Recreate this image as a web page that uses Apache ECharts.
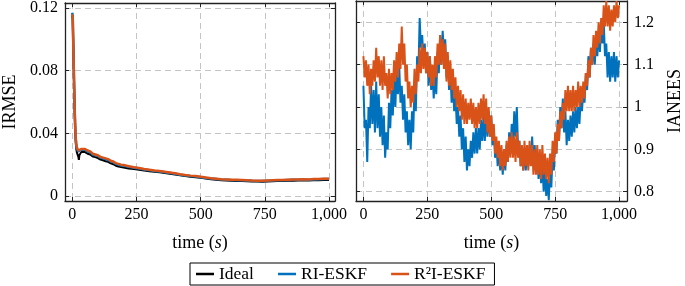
<!DOCTYPE html>
<html>
<head>
<meta charset="utf-8">
<script src="https://cdn.jsdelivr.net/npm/echarts@6/dist/echarts.min.js"></script>
<style>
  html, body { margin: 0; padding: 0; background: #fff; }
  #chart { width: 685px; height: 286px; }
</style>
</head>
<body>
<div id="chart"></div>
<script>
// left panel: IRMSE over time (denser sampling at the start)
var leftTime = [0, 2, 4, 6, 8, 10, 12, 14, 16, 18, 20, 22, 24, 26, 28, 30, 35,
  40, 50, 60, 70, 80, 90, 100, 110, 120, 130, 140, 150, 160, 170, 180, 190, 200,
  220, 240, 260, 280, 300, 320, 340, 360, 380, 400, 420, 440, 460, 480, 500,
  520, 540, 560, 580, 600, 620, 640, 660, 680, 700, 720, 740, 760, 780, 800,
  820, 840, 860, 880, 900, 920, 940, 960, 980, 1000]

var idealRmse = [0.115, 0.113, 0.098, 0.082, 0.066, 0.052, 0.041, 0.034, 0.030, 0.028, 0.027, 0.028, 0.025, 0.023, 0.026, 0.027,
  0.028,
  0.0275, 0.028, 0.027, 0.0265, 0.0252, 0.0248, 0.0242, 0.0232, 0.0228, 0.0222, 0.0218, 0.0208, 0.0203, 0.0193, 0.0188, 0.0185, 0.0182,
  0.0175, 0.0172, 0.0167, 0.0162, 0.0158, 0.0154, 0.0151, 0.0146, 0.0142, 0.0137, 0.0132, 0.0127, 0.0123, 0.012, 0.0116, 0.0112, 0.0107,
  0.0104, 0.0101, 0.0099, 0.0097, 0.0096, 0.0095, 0.0094, 0.0093, 0.0092, 0.0091, 0.0092, 0.0094, 0.0095, 0.0096, 0.0097, 0.0098,
  0.0099, 0.0100, 0.0099, 0.0100, 0.0101, 0.0102, 0.0102]

var riRmse = [0.117, 0.115, 0.099, 0.083, 0.067, 0.053, 0.043, 0.036, 0.032, 0.030, 0.0295, 0.030, 0.0285, 0.0295, 0.0285, 0.029,
  0.0295,
  0.029, 0.0295, 0.0285, 0.028, 0.0265, 0.026, 0.0255, 0.0245, 0.024, 0.0235, 0.023, 0.022, 0.0215, 0.0205, 0.020, 0.0195, 0.0193,
  0.0186, 0.018, 0.0175, 0.0169, 0.0165, 0.016, 0.0157, 0.0152, 0.0147, 0.0142, 0.0136, 0.0131, 0.0127, 0.0124, 0.012, 0.0115, 0.0111,
  0.0108, 0.0105, 0.0104, 0.0102, 0.0101, 0.01, 0.0099, 0.0097, 0.0096, 0.0095, 0.0097, 0.0099, 0.01, 0.01, 0.0102, 0.0103,
  0.0104, 0.0105, 0.0104, 0.0106, 0.0107, 0.0108, 0.0108]

var r2iRmse = [0.116, 0.114, 0.099, 0.083, 0.067, 0.053, 0.043, 0.037, 0.033, 0.031, 0.030, 0.0305, 0.029, 0.030, 0.029, 0.0295,
  0.030,
  0.0295, 0.030, 0.029, 0.0285, 0.027, 0.0265, 0.026, 0.025, 0.0245, 0.024, 0.0235, 0.0225, 0.022, 0.021, 0.0205, 0.020, 0.0198,
  0.019, 0.0183, 0.0178, 0.0172, 0.0168, 0.0163, 0.016, 0.0155, 0.015, 0.0145, 0.0139, 0.0134, 0.013, 0.0127, 0.0123, 0.0118, 0.0113,
  0.011, 0.0107, 0.0106, 0.0104, 0.0103, 0.0102, 0.0101, 0.0099, 0.0098, 0.0097, 0.0099, 0.0101, 0.0102, 0.0102, 0.0104, 0.0105,
  0.0106, 0.0107, 0.0106, 0.0108, 0.0109, 0.0110, 0.0110]

// right panel: IANEES, one sample every 5 s
var rightTime = []
for (var i = 0; i <= 200; i++) rightTime.push(i * 5)

var riNees = [
  1.05, 0.95, 0.97, 0.87, 1.00, 0.95, 1.05, 0.96, 1.04, 0.94, 1.06, 0.95, 1.03, 0.93, 1.00, 0.91, 0.98, 0.88, 0.94, 0.90,
  1.01, 0.95, 1.04, 0.98, 1.07, 1.00, 1.09, 1.03, 1.10, 1.01, 1.05, 0.97, 1.03, 0.94, 0.99, 0.91, 0.97, 0.90, 0.99, 0.94,
  1.06, 0.99, 1.12, 1.08, 1.21, 1.14, 1.17, 1.10, 1.15, 1.08, 1.13, 1.05, 1.12, 1.04, 1.09, 1.02, 1.08, 1.03, 1.13, 1.08,
  1.17, 1.10, 1.18, 1.13, 1.16, 1.07, 1.12, 1.04, 1.09, 1.01, 1.06, 0.99, 1.03, 0.96, 1.00, 0.93, 0.98, 0.90, 0.95, 0.87,
  0.93, 0.85, 0.90, 0.86, 0.92, 0.88, 0.94, 0.89, 0.95, 0.89, 0.95, 0.90, 0.97, 0.92, 0.98, 0.92, 0.99, 0.93, 0.99, 0.93,
  0.98, 0.91, 0.95, 0.88, 0.92, 0.86, 0.91, 0.85, 0.89, 0.84, 0.90, 0.85, 0.91, 0.87, 0.94, 0.89, 0.96, 0.91, 0.99, 0.93,
  1.00, 0.90, 0.92, 0.86, 0.90, 0.85, 0.90, 0.85, 0.89, 0.86, 0.91, 0.87, 0.93, 0.86, 0.91, 0.85, 0.89, 0.83, 0.88, 0.82,
  0.87, 0.80, 0.85, 0.79, 0.83, 0.78, 0.85, 0.81, 0.89, 0.85, 0.93, 0.89, 0.97, 0.92, 1.00, 0.95, 1.02, 0.94, 0.99, 0.91,
  0.97, 0.92, 0.98, 0.93, 0.99, 0.94, 1.00, 0.95, 1.00, 0.96, 1.02, 0.99, 1.04, 1.01, 1.08, 1.04, 1.12, 1.07, 1.14, 1.10,
  1.15, 1.10, 1.16, 1.12, 1.18, 1.13, 1.19, 1.15, 1.20, 1.12, 1.15, 1.07, 1.13, 1.06, 1.12, 1.07, 1.13, 1.06, 1.12, 1.07,
  1.11]

var r2iNees = [
  1.12, 1.07, 1.11, 1.05, 1.10, 1.03, 1.09, 1.05, 1.11, 1.06, 1.14, 1.07, 1.12, 1.05, 1.11, 1.04, 1.12, 1.05, 1.08, 1.02,
  1.09, 1.03, 1.08, 1.04, 1.11, 1.06, 1.13, 1.07, 1.15, 1.09, 1.19, 1.10, 1.15, 1.06, 1.10, 1.02, 1.06, 1.00, 1.05, 1.01,
  1.09, 1.03, 1.10, 1.06, 1.14, 1.08, 1.15, 1.09, 1.14, 1.08, 1.13, 1.07, 1.12, 1.05, 1.10, 1.05, 1.12, 1.07, 1.15, 1.10,
  1.17, 1.10, 1.16, 1.09, 1.15, 1.06, 1.13, 1.05, 1.11, 1.04, 1.09, 1.02, 1.07, 1.00, 1.05, 0.99, 1.04, 0.97, 1.03, 0.96,
  1.02, 0.96, 1.01, 0.97, 1.02, 0.96, 1.01, 0.95, 1.00, 0.95, 1.01, 0.96, 1.02, 0.97, 1.03, 0.96, 1.02, 0.94, 1.00, 0.93,
  0.98, 0.92, 0.96, 0.89, 0.93, 0.88, 0.92, 0.86, 0.91, 0.85, 0.90, 0.86, 0.92, 0.87, 0.93, 0.88, 0.94, 0.88, 0.93, 0.87,
  0.94, 0.88, 0.92, 0.86, 0.91, 0.85, 0.92, 0.86, 0.91, 0.85, 0.92, 0.86, 0.91, 0.84, 0.90, 0.84, 0.91, 0.84, 0.90, 0.83,
  0.91, 0.84, 0.89, 0.83, 0.88, 0.82, 0.89, 0.84, 0.92, 0.87, 0.94, 0.89, 0.96, 0.92, 0.99, 0.95, 1.01, 0.97, 1.04, 0.99,
  1.05, 0.99, 1.04, 0.99, 1.05, 0.99, 1.04, 1.00, 1.06, 1.00, 1.05, 1.01, 1.06, 1.02, 1.08, 1.05, 1.11, 1.07, 1.14, 1.10,
  1.17, 1.12, 1.18, 1.14, 1.20, 1.15, 1.21, 1.17, 1.24, 1.19, 1.25, 1.19, 1.24, 1.18, 1.23, 1.19, 1.24, 1.20, 1.25, 1.21,
  1.24]

var timeTicks = [0, 250, 500, 750, 1000]
var rmseTicks = [0, 0.04, 0.08, 0.12]
var neesTicks = [0.8, 0.9, 1, 1.1, 1.2]

var BLACK = '#000000'
var BLUE = '#0072BD'
var ORANGE = '#D95319'
var FONT = 'Liberation Serif'

var pairs = function (xs, ys) {
  return ys.map(function (v, k) { return [xs[k], v] })
}

var fmtTime = function (v) {
  return v >= 1000 ? '1,000' : String(v)
}

var gridLine = { show: true, lineStyle: { color: '#c4c4c4', type: [6, 4], width: 1 } }
var frameLine = { show: true, onZero: false, lineStyle: { color: '#222', width: 1.3 } }
var innerTick = function (vals) {
  return { show: true, inside: true, length: 4, customValues: vals, lineStyle: { color: '#222', width: 1 } }
}

var xAxisFor = function (grid, min, max, withLabels) {
  return {
    type: 'value', gridIndex: grid, min: min, max: max,
    position: withLabels ? 'bottom' : 'top',
    axisLine: frameLine,
    axisTick: innerTick(timeTicks),
    splitLine: withLabels ? gridLine : { show: false },
    axisLabel: withLabels ? {
      show: true, customValues: timeTicks, formatter: fmtTime, margin: 6,
      fontFamily: FONT, fontSize: 16, color: '#000'
    } : { show: false },
    name: withLabels ? '{a|time (}{b|s}{a|)}' : '',
    nameLocation: 'middle',
    nameGap: 33,
    nameTextStyle: {
      rich: {
        a: { fontFamily: FONT, fontSize: 18, color: '#000' },
        b: { fontFamily: FONT, fontSize: 18, fontStyle: 'italic', color: '#000' }
      }
    }
  }
}

var yAxisFor = function (grid, min, max, ticks, pos, withLabels, name, labelFmt, nameGap) {
  return {
    type: 'value', gridIndex: grid, min: min, max: max, position: pos,
    axisLine: frameLine,
    axisTick: innerTick(ticks),
    splitLine: withLabels ? gridLine : { show: false },
    axisLabel: withLabels ? {
      show: true, customValues: ticks, formatter: labelFmt, margin: 7,
      fontFamily: FONT, fontSize: 16, color: '#000'
    } : { show: false },
    name: withLabels ? name : '',
    nameLocation: 'middle',
    nameRotate: 90,
    nameGap: nameGap,
    nameTextStyle: { fontFamily: FONT, fontSize: 18, color: '#000' }
  }
}

var chart = echarts.init(document.getElementById('chart'), null, { renderer: 'canvas' })

chart.setOption({
  animation: false,
  backgroundColor: '#fff',
  textStyle: { fontFamily: FONT, color: '#000' },
  grid: [
    { left: 62, top: 1, width: 273, height: 200 },
    { left: 356, top: 1, width: 275, height: 200 }
  ],
  xAxis: [
    xAxisFor(0, -28, 1023, true),
    xAxisFor(0, -28, 1023, false),
    xAxisFor(1, -29, 1031, true),
    xAxisFor(1, -29, 1031, false)
  ],
  yAxis: [
    yAxisFor(0, -0.0032, 0.1232, rmseTicks, 'left', true, 'IRMSE', function (v) { return v === 0 ? '0' : v.toFixed(2) }, 46),
    yAxisFor(0, -0.0032, 0.1232, rmseTicks, 'right', false, '', null, 0),
    yAxisFor(1, 0.778, 1.2503, neesTicks, 'right', true, 'IANEES', function (v) { return String(Math.round(v * 10) / 10) }, 39),
    yAxisFor(1, 0.778, 1.2503, neesTicks, 'left', false, '', null, 0)
  ],
  legend: {
    data: ['Ideal', 'RI-ESKF', 'R²I-ESKF'],
    left: 190, top: 263,
    icon: 'rect', itemWidth: 18, itemHeight: 2.5, itemGap: 24,
    padding: [2, 9, 2, 6],
    borderColor: '#000', borderWidth: 1,
    textStyle: { fontFamily: FONT, fontSize: 17.5, color: '#000' }
  },
  series: [
    {
      name: 'Ideal', type: 'line', xAxisIndex: 0, yAxisIndex: 0, symbol: 'none', silent: true,
      color: BLACK, lineStyle: { color: BLACK, width: 2 }, data: pairs(leftTime, idealRmse)
    },
    {
      name: 'RI-ESKF', type: 'line', xAxisIndex: 0, yAxisIndex: 0, symbol: 'none', silent: true,
      color: BLUE, lineStyle: { color: BLUE, width: 2.5 }, data: pairs(leftTime, riRmse)
    },
    {
      name: 'R²I-ESKF', type: 'line', xAxisIndex: 0, yAxisIndex: 0, symbol: 'none', silent: true,
      color: ORANGE, lineStyle: { color: ORANGE, width: 2.5 }, data: pairs(leftTime, r2iRmse)
    },
    {
      name: 'RI-ESKF', type: 'line', xAxisIndex: 2, yAxisIndex: 2, symbol: 'none', silent: true,
      color: BLUE, lineStyle: { color: BLUE, width: 2 }, data: pairs(rightTime, riNees)
    },
    {
      name: 'R²I-ESKF', type: 'line', xAxisIndex: 2, yAxisIndex: 2, symbol: 'none', silent: true,
      color: ORANGE, lineStyle: { color: ORANGE, width: 2 }, data: pairs(rightTime, r2iNees)
    }
  ]
})
</script>
</body>
</html>
